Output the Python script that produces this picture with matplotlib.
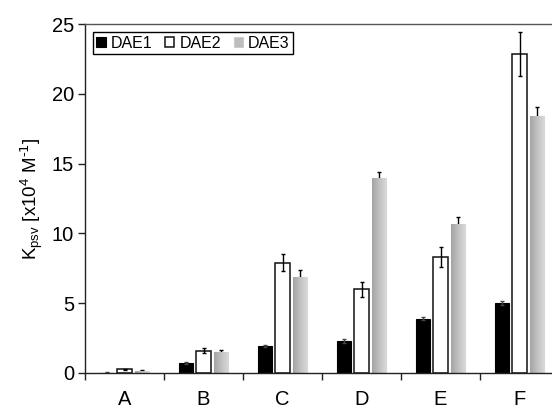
import numpy as np
import matplotlib
matplotlib.use('Agg')
import matplotlib.pyplot as plt
from matplotlib.colors import LinearSegmentedColormap

plt.rcParams['font.family'] = ['Liberation Sans', 'DejaVu Sans']
plt.rcParams['mathtext.default'] = 'regular'

categorias = ['A', 'B', 'C', 'D', 'E', 'F']
series = ['DAE1', 'DAE2', 'DAE3']
dae1 = [0.03, 0.70, 1.93, 2.30, 3.90, 5.00]
dae2 = [0.27, 1.60, 7.90, 6.00, 8.30, 22.85]
dae3 = [0.15, 1.52, 6.90, 13.97, 10.70, 18.40]
err1 = [0.02, 0.07, 0.10, 0.15, 0.10, 0.15]
err2 = [0.04, 0.20, 0.60, 0.55, 0.70, 1.60]
err3 = [0.04, 0.12, 0.50, 0.45, 0.45, 0.65]

fig = plt.figure(figsize=(5.52, 4.08), dpi=100)
ax = fig.add_axes([85 / 552, 35 / 408, 474 / 552, 349 / 408])

x = np.arange(len(categorias)) + 0.5
ancho = 0.185
paso = 0.222

ax.bar(x - paso, dae1, ancho, color='black', edgecolor='black', linewidth=0.8,
       yerr=err1, error_kw=dict(ecolor='#444444', elinewidth=1.0, capsize=1.5, capthick=1.0),
       label=series[0], zorder=2)
ax.bar(x, dae2, ancho, color='white', edgecolor='#111111', linewidth=1.1,
       yerr=err2, error_kw=dict(ecolor='black', elinewidth=1.0, capsize=1.5, capthick=1.0),
       label=series[1], zorder=2)
barras3 = ax.bar(x + paso, dae3, ancho, color='#bdbdbd', edgecolor='#cccccc', linewidth=0.8,
                 yerr=err3, error_kw=dict(ecolor='black', elinewidth=1.0, capsize=1.5, capthick=1.0),
                 label=series[2], zorder=2)

# degradado en las barras grises
cmap = LinearSegmentedColormap.from_list('gris', ['#a4a4a4', '#c2c2c2', '#dadada'])
grad = np.linspace(0, 1, 64).reshape(1, -1)
for b in barras3:
    x0, y0 = b.get_x(), b.get_y()
    w, h = b.get_width(), b.get_height()
    im = ax.imshow(grad, cmap=cmap, extent=[x0, x0 + w, y0, y0 + h], aspect='auto',
                   zorder=2.1, interpolation='bilinear')
    im.set_clip_path(b)

ax.set_xlim(0, 6)
ax.set_ylim(0, 25)
ax.set_yticks([0, 5, 10, 15, 20, 25])
ax.set_xticks(np.arange(0, 7))
ax.set_xticklabels([])
ax.set_xticks(x, minor=True)
ax.set_xticklabels(categorias, minor=True)
ax.tick_params(axis='x', which='minor', length=0, pad=12, labelsize=14.5)
ax.tick_params(axis='x', which='major', direction='out', length=5, width=1.0, color='#222222')
ax.tick_params(axis='y', direction='out', length=5, width=1.0, color='#222222', labelsize=14.5, pad=3)

for s in ['left', 'bottom', 'top']:
    ax.spines[s].set_linewidth(1.0)
    ax.spines[s].set_color('#222222')
ax.spines['top'].set_color('#555555')
ax.spines['right'].set_visible(False)

ax.set_ylabel(r'K$_{psv}$ [x10$^{4}$ M$^{\text{-1}}$]', fontsize=13.5, labelpad=5)

leg = ax.legend(loc='upper left', ncol=3, fontsize=11.5, frameon=True, fancybox=False,
                edgecolor='black', framealpha=1, borderpad=0.2, handlelength=0.6,
                handleheight=0.6, handletextpad=0.3, columnspacing=0.8,
                bbox_to_anchor=(0.01, 0.985), borderaxespad=0.2)
leg.get_frame().set_linewidth(1.0)

fig.savefig('out.png', dpi=100)
